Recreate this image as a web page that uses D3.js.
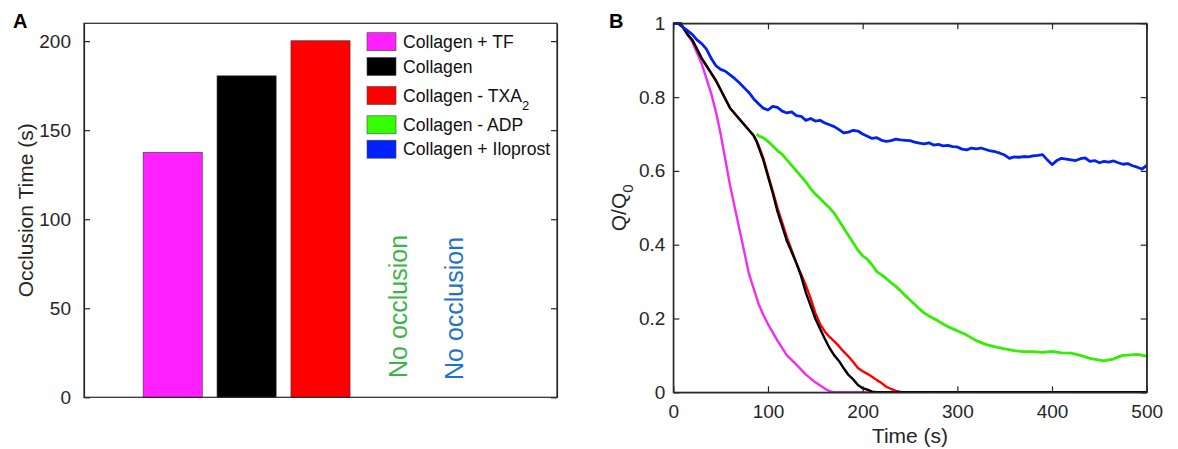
<!DOCTYPE html>
<html lang="en">
<head>
<meta charset="UTF-8">
<title>Occlusion time and flow</title>
<style>
  body { margin: 0; background: #fff; font-family: "Liberation Sans", Arial, sans-serif; }
  .axis path, .axis line { stroke: #262626; stroke-width: 1.2; }
  .axis text { fill: #262626; font-size: 19px; font-family: "Liberation Sans", Arial, sans-serif; }
</style>
<script src="https://d3js.org/d3.v7.min.js"></script>
</head>
<body>
<script>
// ---- panel A data
const categories = ["Collagen + TF", "Collagen", "Collagen - TXA", "Collagen - ADP", "Collagen + Iloprost"];
const occlusionTime = [137.5, 180.5, 200.2, null, null];
const barColors = ["#ff1fff", "#000000", "#ff0000", "#33ff00", "#0022ff"];
const yTicksA = [0, 50, 100, 150, 200];

// ---- panel B data
const tMagenta = [0, 5, 10, 15, 20, 25, 30, 35, 40, 45, 50, 55, 60, 65, 70, 75, 80, 85, 90, 95, 100, 110, 120, 130, 140, 150, 160, 165, 170, 500];
const qMagenta = [1, 1, 0.99, 0.97, 0.95, 0.92, 0.89, 0.85, 0.81, 0.76, 0.70, 0.63, 0.56, 0.50, 0.44, 0.38, 0.32, 0.28, 0.24, 0.21, 0.185, 0.14, 0.10, 0.075, 0.048, 0.027, 0.01, 0.003, 0, 0];

const tBlack = [0, 5, 10, 15, 20, 25, 30, 35, 40, 45, 50, 55, 60, 65, 70, 75, 80, 85, 88, 90, 95, 100, 105, 110, 115, 120, 125, 130, 135, 140, 145, 150, 155, 160, 165, 170, 175, 180, 185, 190, 195, 200, 205, 210, 215, 500];
const qBlack = [1, 1, 0.99, 0.97, 0.955, 0.93, 0.905, 0.885, 0.865, 0.845, 0.82, 0.795, 0.77, 0.755, 0.74, 0.725, 0.71, 0.695, 0.68, 0.665, 0.63, 0.585, 0.54, 0.49, 0.45, 0.41, 0.38, 0.35, 0.315, 0.27, 0.235, 0.2, 0.172, 0.145, 0.12, 0.1, 0.085, 0.065, 0.047, 0.035, 0.02, 0.011, 0.007, 0.002, 0, 0];

const tRed = [0, 5, 10, 15, 20, 25, 30, 35, 40, 45, 50, 55, 60, 65, 70, 75, 80, 85, 90, 95, 100, 105, 110, 115, 120, 125, 130, 135, 140, 145, 150, 155, 160, 165, 170, 175, 180, 185, 190, 195, 200, 205, 210, 215, 220, 225, 230, 235, 240, 245, 500];
const qRed = [1, 1, 0.99, 0.97, 0.955, 0.93, 0.905, 0.885, 0.865, 0.845, 0.82, 0.795, 0.77, 0.755, 0.74, 0.725, 0.71, 0.695, 0.67, 0.635, 0.59, 0.545, 0.5, 0.46, 0.42, 0.385, 0.35, 0.32, 0.29, 0.255, 0.215, 0.185, 0.165, 0.15, 0.138, 0.125, 0.11, 0.097, 0.082, 0.066, 0.057, 0.05, 0.042, 0.033, 0.025, 0.015, 0.009, 0.004, 0.001, 0, 0];

const tGreen = [88, 90, 95, 100, 105, 110, 115, 120, 125, 130, 135, 140, 145, 150, 155, 160, 165, 170, 175, 180, 185, 190, 195, 200, 205, 210, 215, 220, 225, 230, 235, 240, 245, 250, 255, 260, 265, 270, 275, 280, 285, 290, 295, 300, 310, 320, 330, 340, 350, 360, 370, 380, 390, 400, 410, 420, 430, 440, 450, 455, 460, 465, 470, 475, 480, 490, 500];
const qGreen = [0.70, 0.695, 0.69, 0.68, 0.668, 0.655, 0.645, 0.63, 0.615, 0.6, 0.585, 0.57, 0.552, 0.537, 0.525, 0.512, 0.5, 0.485, 0.465, 0.445, 0.425, 0.405, 0.385, 0.37, 0.36, 0.345, 0.327, 0.318, 0.308, 0.297, 0.287, 0.275, 0.262, 0.25, 0.238, 0.226, 0.215, 0.207, 0.2, 0.193, 0.185, 0.178, 0.172, 0.167, 0.155, 0.14, 0.13, 0.123, 0.118, 0.113, 0.11, 0.11, 0.108, 0.111, 0.107, 0.106, 0.1, 0.092, 0.087, 0.085, 0.088, 0.09, 0.096, 0.1, 0.101, 0.103, 0.098];

const tBlue = [0, 5, 8, 10, 15, 20, 25, 30, 35, 40, 45, 50, 55, 60, 65, 70, 75, 80, 85, 90, 95, 100, 105, 110, 115, 120, 125, 130, 135, 140, 145, 150, 155, 160, 165, 170, 175, 180, 185, 190, 195, 200, 205, 210, 215, 220, 225, 230, 235, 240, 245, 250, 255, 260, 265, 270, 275, 280, 285, 290, 295, 300, 305, 310, 315, 320, 325, 330, 335, 340, 345, 350, 355, 360, 365, 370, 375, 380, 385, 390, 395, 400, 405, 410, 415, 420, 425, 430, 435, 440, 445, 450, 455, 460, 465, 470, 475, 480, 485, 490, 495, 500];
const qBlue = [1, 1, 1, 0.99, 0.98, 0.97, 0.955, 0.945, 0.93, 0.905, 0.885, 0.875, 0.87, 0.86, 0.85, 0.838, 0.825, 0.812, 0.795, 0.782, 0.77, 0.765, 0.775, 0.772, 0.762, 0.757, 0.76, 0.75, 0.748, 0.737, 0.742, 0.735, 0.737, 0.73, 0.725, 0.72, 0.712, 0.703, 0.705, 0.71, 0.708, 0.7, 0.694, 0.688, 0.69, 0.683, 0.68, 0.682, 0.686, 0.684, 0.683, 0.682, 0.678, 0.675, 0.673, 0.676, 0.67, 0.672, 0.668, 0.669, 0.666, 0.665, 0.659, 0.657, 0.662, 0.66, 0.662, 0.658, 0.654, 0.652, 0.648, 0.643, 0.634, 0.638, 0.637, 0.639, 0.638, 0.641, 0.642, 0.644, 0.63, 0.617, 0.628, 0.634, 0.632, 0.63, 0.628, 0.633, 0.635, 0.626, 0.628, 0.622, 0.626, 0.624, 0.627, 0.622, 0.618, 0.62, 0.614, 0.61, 0.605, 0.615];

const xTicksB = [0, 100, 200, 300, 400, 500];
const yTicksB = [0, 0.2, 0.4, 0.6, 0.8, 1];

const svg = d3.select("body").append("svg")
    .attr("width", 1178)
    .attr("height", 449);

// =================== panel A ===================
const xA = d3.scaleLinear().domain([-0.2, 6.2]).range([84, 557]);
const yA = d3.scaleLinear().domain([0, 210]).range([397.3, 23.3]);

const gA = svg.append("g");

// bars
gA.selectAll(".bar")
    .data(occlusionTime.map((v, i) => ({v, i})).filter(d => d.v !== null))
    .enter().append("rect")
      .attr("class", "bar")
      .attr("x", d => xA(d.i + 1 - 0.4))
      .attr("width", xA(0.8) - xA(0))
      .attr("y", d => yA(d.v))
      .attr("height", d => yA(0) - yA(d.v))
      .attr("fill", d => barColors[d.i])
      .attr("stroke", "#333")
      .attr("stroke-width", 0.6);

// box + ticks
gA.append("g").attr("class", "axis")
    .attr("transform", "translate(84,0)")
    .call(d3.axisLeft(yA).tickValues(yTicksA).tickSize(-6).tickPadding(13).tickSizeOuter(0));
gA.append("g").attr("class", "axis")
    .attr("transform", "translate(557,0)")
    .call(d3.axisRight(yA).tickValues(yTicksA).tickSize(-6).tickFormat("").tickSizeOuter(0));
gA.append("rect")
    .attr("x", 84).attr("y", 23.3).attr("width", 557 - 84).attr("height", 397.3 - 23.3)
    .attr("fill", "none").attr("stroke", "#262626").attr("stroke-width", 1.2);

// y label
gA.append("text")
    .attr("transform", `translate(33,${(23.3 + 397.3) / 2}) rotate(-90)`)
    .attr("text-anchor", "middle")
    .style("font-size", "21px").style("fill", "#262626")
    .text("Occlusion Time (s)");

// "No occlusion" notes
gA.append("text")
    .attr("transform", `translate(${xA(4.17)},378) rotate(-90)`)
    .style("font-size", "25px").style("fill", "#3cb44a")
    .text("No occlusion");
gA.append("text")
    .attr("transform", `translate(${xA(4.93)},380) rotate(-90)`)
    .style("font-size", "25px").style("fill", "#1e74c4")
    .text("No occlusion");

// legend
const legendRowY = [41.7, 66.5, 95.5, 124.8, 149.2];
const leg = gA.append("g");
categories.forEach((c, i) => {
  leg.append("rect")
      .attr("x", 367).attr("y", legendRowY[i] - 9)
      .attr("width", 29).attr("height", 18)
      .attr("fill", barColors[i])
      .attr("stroke", "#444").attr("stroke-width", 0.6);
  const t = leg.append("text")
      .attr("x", 403).attr("y", legendRowY[i] + 6)
      .style("font-size", "17.6px").style("fill", "#111")
      .text(c);
  if (i === 2) {
    t.append("tspan").attr("dy", 8).style("font-size", "13px").text("2");
  }
});

// "A"
svg.append("text").attr("x", 13).attr("y", 28)
    .style("font-size", "20px").style("font-weight", "bold").text("A");

// =================== panel B ===================
const xB = d3.scaleLinear().domain([0, 500]).range([673.3, 1146.7]);
const yB = d3.scaleLinear().domain([0, 1]).range([392.3, 23.3]);

const gB = svg.append("g");

gB.append("clipPath").attr("id", "clipB")
  .append("rect")
    .attr("x", 673.3).attr("y", 21).attr("width", 1146.7 - 673.3).attr("height", 392.3 - 21);

const line = d3.line().x(d => xB(d[0])).y(d => yB(d[1]));

const series = [
  {t: tRed, q: qRed, color: "#ff0000", w: 2.4},
  {t: tMagenta, q: qMagenta, color: "#f02ef0", w: 2.4},
  {t: tBlack, q: qBlack, color: "#000000", w: 2.4},
  {t: tGreen, q: qGreen, color: "#33ee00", w: 2.8},
  {t: tBlue, q: qBlue, color: "#0022ee", w: 2.8}
];

gB.append("g").attr("clip-path", "url(#clipB)")
  .selectAll("path")
  .data(series)
  .enter().append("path")
    .attr("d", s => line(s.t.map((t, i) => [t, s.q[i]])))
    .attr("fill", "none")
    .attr("stroke", s => s.color)
    .attr("stroke-width", s => s.w)
    .attr("stroke-linejoin", "round");

gB.append("g").attr("class", "axis")
    .attr("transform", "translate(673.3,0)")
    .call(d3.axisLeft(yB).tickValues(yTicksB).tickFormat(d3.format("~g")).tickSize(-6).tickPadding(8).tickSizeOuter(0));
gB.append("g").attr("class", "axis")
    .attr("transform", "translate(1146.7,0)")
    .call(d3.axisRight(yB).tickValues(yTicksB).tickFormat("").tickSize(-6).tickSizeOuter(0));
gB.append("g").attr("class", "axis")
    .attr("transform", "translate(0,392.3)")
    .call(d3.axisBottom(xB).tickValues(xTicksB).tickSize(-6).tickPadding(12).tickSizeOuter(0));
gB.append("g").attr("class", "axis")
    .attr("transform", "translate(0,23.3)")
    .call(d3.axisTop(xB).tickValues(xTicksB).tickFormat("").tickSize(-6).tickSizeOuter(0));
gB.append("rect")
    .attr("x", 673.3).attr("y", 23.3).attr("width", 1146.7 - 673.3).attr("height", 392.3 - 23.3)
    .attr("fill", "none").attr("stroke", "#262626").attr("stroke-width", 1.2);

gB.append("text")
    .attr("x", (673.3 + 1146.7) / 2).attr("y", 443)
    .attr("text-anchor", "middle")
    .style("font-size", "21px").style("fill", "#262626")
    .text("Time (s)");

const ql = gB.append("text")
    .attr("transform", `translate(626,${(23.3 + 392.3) / 2}) rotate(-90)`)
    .attr("text-anchor", "middle")
    .style("font-size", "21px").style("fill", "#262626")
    .text("Q/Q");
ql.append("tspan").attr("dy", 7).style("font-size", "15px").text("0");

svg.append("text").attr("x", 609).attr("y", 28)
    .style("font-size", "20px").style("font-weight", "bold").text("B");
</script>
</body>
</html>
